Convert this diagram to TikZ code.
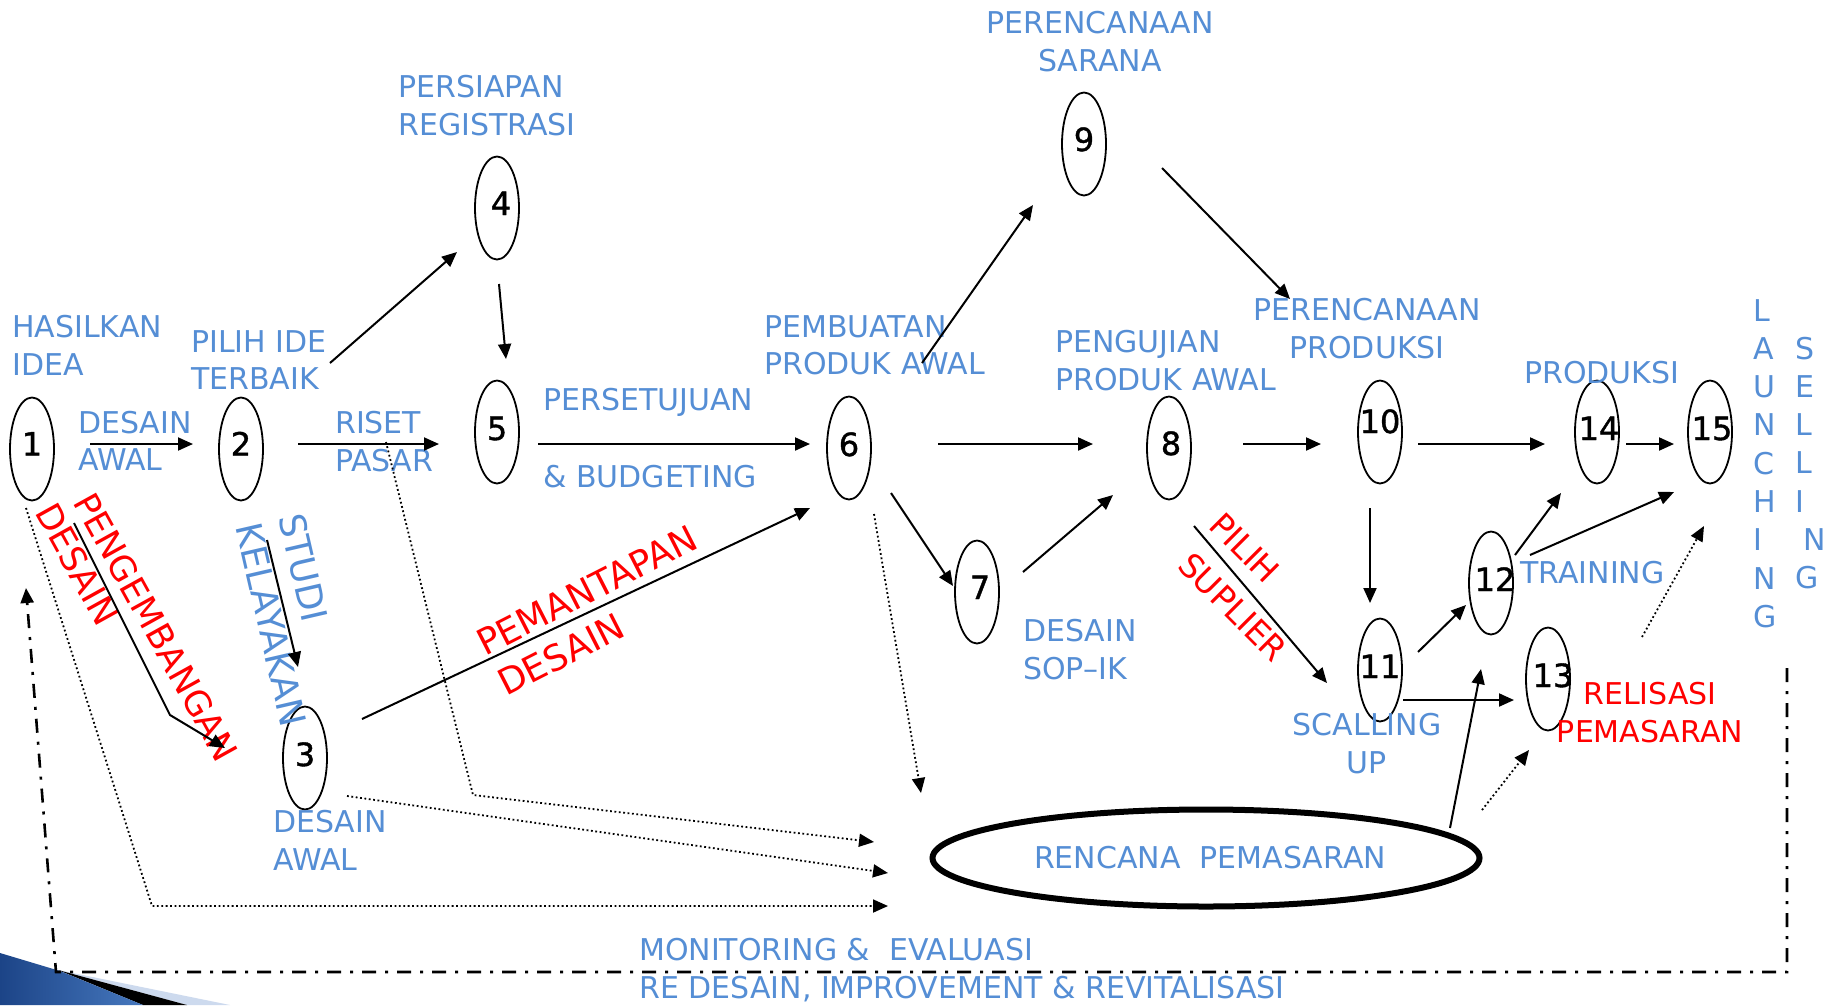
\documentclass[tikz,border=0pt]{standalone}
\usepackage{fontspec}
\setmainfont{DejaVu Sans}
\newfontfamily\digitfont{DejaVu Sans}[FakeBold=1.2]
\usetikzlibrary{shapes.geometric,arrows.meta}
\definecolor{tblue}{RGB}{85,142,213}
\definecolor{cornerdark}{RGB}{28,68,135}
\definecolor{cornerlight}{RGB}{70,120,190}
\definecolor{cornerpale}{RGB}{205,218,238}
\newcommand\myfs[1]{\fontsize{#1pt}{#1pt}\selectfont}
\newcommand\mytwo[3]{\vtop{\baselineskip=#1pt\lineskiplimit=-200pt\hbox{#2}\hbox{#3}}}
\newcommand\mytwoc[3]{\vtop{\baselineskip=#1pt\lineskiplimit=-200pt\halign{\hfil##\hfil\cr#2\cr#3\cr}}}
\newcommand\mycol[1]{\vtop{\baselineskip=38.3pt\lineskiplimit=-200pt #1}}
% digit inside an ellipse: optional horizontal nudge, vertical baseline drop
\newcommand\dg[3][0pt]{\makebox[0pt]{\hspace{#1}\raisebox{-#2pt}{#3}}}
\tikzset{
  stepnode/.style={ellipse, draw, line width=1.8pt, minimum width=44pt, minimum height=103pt, inner sep=0pt, text height=0pt, text depth=0pt, font=\digitfont\myfs{32}},
  lbl/.style={text=tblue, font=\myfs{30}, anchor=base west, inner sep=0pt},
  clbl/.style={text=tblue, font=\myfs{30}, anchor=base, inner sep=0pt},
  rotred/.style={text=red, font=\myfs{35}, anchor=base west, inner sep=0pt},
  rotblue/.style={text=tblue, font=\myfs{36}, anchor=base west, inner sep=0pt},
  arr/.style={line width=2pt, -{Triangle[length=15pt,width=13pt]}},
  dots/.style={line width=1.8pt, dash pattern=on 1.8pt off 2.6pt},
  darr/.style={dots, -{Triangle[length=15pt,width=13pt]}},
  dashdot/.style={line width=2.6pt, dash pattern=on 14pt off 9pt on 3pt off 9pt},
}
\begin{document}
\begin{tikzpicture}[x=1pt,y=-1pt]
\useasboundingbox (0,0) rectangle (1833,1005);
\fill[white] (0,0) rectangle (1833,1005);

% corner decoration
\fill[cornerpale] (58,970) -- (230,1005) -- (187,1005) -- cycle;
\fill[black] (58,970) -- (187,1005) -- (143,1005) -- cycle;
\shade[left color=cornerdark, right color=cornerlight] (0,953) -- (60,971) -- (143,1005) -- (0,1005) -- cycle;

% step nodes
\node[stepnode] (n1) at (32,449) {\dg{6.5}{1}};
\node[stepnode] (n2) at (241,449) {\dg{6.5}{2}};
\node[stepnode] (n3) at (305,758) {\dg{8}{3}};
\node[stepnode] (n4) at (497,208) {\dg[8pt]{7}{4}};
\node[stepnode] (n5) at (497,432) {\dg{8}{5}};
\node[stepnode] (n6) at (849,448) {\dg{8}{6}};
\node[stepnode] (n7) at (977,592) {\dg[6pt]{7}{7}};
\node[stepnode] (n8) at (1169,448) {\dg[4pt]{7}{8}};
\node[stepnode] (n9) at (1084,144) {\dg{7}{9}};
\node[stepnode] (n10) at (1380,432) {\dg{1}{10}};
\node[stepnode] (n11) at (1380,670) {\dg{8}{11}};
\node[stepnode] (n12) at (1491,583) {\dg[8pt]{8}{12}};
\node[stepnode] (n13) at (1548,679) {\dg[10pt]{8}{13}};
\node[stepnode] (n14) at (1597,432) {\dg[4pt]{8}{14}};
\node[stepnode] (n15) at (1710,432) {\dg[4pt]{8}{15}};
\node[ellipse, draw, line width=6pt, minimum width=547pt, minimum height=97pt, inner sep=0pt, text=tblue, font=\myfs{30}] (ren) at (1206,858) {\hspace{8pt}RENCANA\ \ PEMASARAN};

% labels
\node[lbl] (tHasil) at (12,337) {\mytwo{38}{HASILKAN}{IDEA}};
\node[lbl] (tDesAw1) at (78,433) {\mytwo{37}{DESAIN}{AWAL}};
\node[lbl] (tPilih) at (191,352) {\mytwo{37}{PILIH IDE}{TERBAIK}};
\node[lbl] (tRiset) at (335,433) {\mytwo{38}{RISET}{PASAR}};
\node[lbl] (tPersiap) at (398,97) {\mytwo{38}{PERSIAPAN}{REGISTRASI}};
\node[lbl] (tSetuju) at (543,410) {\mytwo{77}{PERSETUJUAN}{\& BUDGETING}};
\node[lbl] (tBuat) at (764,337) {\mytwo{37}{PEMBUATAN}{PRODUK AWAL}};
\node[clbl] (tSarana) at (1100,33) {\mytwoc{38}{PERENCANAAN}{SARANA}};
\node[lbl] (tUji) at (1055,352) {\mytwo{38}{PENGUJIAN}{PRODUK AWAL}};
\node[clbl] (tRenProd) at (1367,320) {\mytwoc{38}{PERENCANAAN}{PRODUKSI}};
\node[lbl] (tProd) at (1524,383) {PRODUKSI};
\node[lbl] (tTrain) at (1520,583) {TRAINING};
\node[lbl] (tSop) at (1023,641) {\mytwo{38}{DESAIN}{SOP–IK}};
\node[clbl] (tScal) at (1367,735) {\mytwoc{38}{SCALLING}{UP}};
\node[lbl] (tDesAw3) at (273,832) {\mytwo{38}{DESAIN}{AWAL}};
\node[clbl, text=red] (tReal) at (1650,704) {\mytwoc{38}{RELISASI}{PEMASARAN}};
\node[lbl] (tMon) at (639,960) {MONITORING \&\ \ EVALUASI};
\node[lbl] (tRe) at (639,998) {RE DESAIN, IMPROVEMENT \& REVITALISASI};
\node[lbl] (tLaunch) at (1753,321) {\mycol{\hbox{L}\hbox{A}\hbox{U}\hbox{N}\hbox{C}\hbox{H}\hbox{I}\hbox{N}\hbox{G}}};
\node[lbl] (tSell) at (1795,359) {\mycol{\hbox{S}\hbox{E}\hbox{L}\hbox{L}\hbox{I}\hbox{\hspace{8pt}N}\hbox{G}}};

% rotated labels
\node[rotred, rotate=-61] (tPeng1) at (72,502) {PENGEMBANGAN};
\node[rotred, rotate=-61] (tPeng2) at (34,512) {DESAIN};
\node[rotblue, rotate=-77] (tStudi) at (278,517) {STUDI};
\node[rotblue, rotate=-77] (tKelay) at (235,526) {KELAYAKAN};
\node[rotred, font=\myfs{36}, rotate=27] (tMant1) at (485,657) {PEMANTAPAN};
\node[rotred, font=\myfs{36}, rotate=27] (tMant2) at (506,697) {DESAIN};
\node[rotred, font=\myfs{33}, rotate=-45] (tPilih1) at (1207,527) {PILIH};
\node[rotred, font=\myfs{33}, rotate=-45] (tPilih2) at (1176,567) {SUPLIER};

% connector end points
\coordinate (c12a) at (90,444);   \coordinate (c12b) at (193,444);
\coordinate (c25a) at (298,444);  \coordinate (c25b) at (439,444);
\coordinate (c24a) at (330,363);  \coordinate (c24b) at (457,252);
\coordinate (c45a) at (499,284);  \coordinate (c45b) at (506,359);
\coordinate (c56a) at (538,444);  \coordinate (c56b) at (810,444);
\coordinate (c69a) at (922,363);  \coordinate (c69b) at (1033,205);
\coordinate (c910a) at (1162,168); \coordinate (c910b) at (1290,299);
\coordinate (c68a) at (938,444);  \coordinate (c68b) at (1093,444);
\coordinate (c67a) at (891,493);  \coordinate (c67b) at (953,586);
\coordinate (c78a) at (1023,572); \coordinate (c78b) at (1113,495);
\coordinate (c36a) at (362,719);  \coordinate (c36b) at (810,508);
\coordinate (c13a) at (74,523);   \coordinate (c13m) at (170,715); \coordinate (c13b) at (225,748);
\coordinate (c23a) at (267,540);  \coordinate (c23b) at (298,667);
\coordinate (c810a) at (1243,444); \coordinate (c810b) at (1321,444);
\coordinate (c1014a) at (1418,444); \coordinate (c1014b) at (1545,444);
\coordinate (c1415a) at (1626,444); \coordinate (c1415b) at (1674,444);
\coordinate (c1011a) at (1370,508); \coordinate (c1011b) at (1370,603);
\coordinate (c811a) at (1194,526); \coordinate (c811b) at (1327,683);
\coordinate (c1112a) at (1418,652); \coordinate (c1112b) at (1466,605);
\coordinate (c1113a) at (1403,700); \coordinate (c1113b) at (1514,700);
\coordinate (c1214a) at (1515,555); \coordinate (c1214b) at (1561,493);
\coordinate (c1215a) at (1530,555); \coordinate (c1215b) at (1674,492);
\coordinate (cR12a) at (1450,828); \coordinate (cR12b) at (1481,669);
% dotted
\coordinate (d1a) at (26,508); \coordinate (d1m) at (152,906); \coordinate (d1b) at (888,906);
\coordinate (d2a) at (386,442); \coordinate (d2m) at (473,795); \coordinate (d2b) at (874,842);
\coordinate (d3a) at (347,796); \coordinate (d3b) at (888,873);
\coordinate (d6a) at (874,514); \coordinate (d6b) at (921,793);
\coordinate (d13a) at (1482,810); \coordinate (d13b) at (1529,750);
\coordinate (d15a) at (1642,637); \coordinate (d15b) at (1704,526);
% feedback loop
\coordinate (fbA) at (1787,668); \coordinate (fbB) at (1787,972);
\coordinate (fbC) at (56,972); \coordinate (fbD) at (26,588);

% solid arrows
\draw[arr] (c12a) -- (c12b);
\draw[arr] (c25a) -- (c25b);
\draw[arr] (c24a) -- (c24b);
\draw[arr] (c45a) -- (c45b);
\draw[arr] (c56a) -- (c56b);
\draw[arr] (c69a) -- (c69b);
\draw[arr] (c910a) -- (c910b);
\draw[arr] (c68a) -- (c68b);
\draw[arr] (c67a) -- (c67b);
\draw[arr] (c78a) -- (c78b);
\draw[arr] (c36a) -- (c36b);
\draw[arr] (c13a) -- (c13m) -- (c13b);
\draw[arr] (c23a) -- (c23b);
\draw[arr] (c810a) -- (c810b);
\draw[arr] (c1014a) -- (c1014b);
\draw[arr] (c1415a) -- (c1415b);
\draw[arr] (c1011a) -- (c1011b);
\draw[arr] (c811a) -- (c811b);
\draw[arr] (c1112a) -- (c1112b);
\draw[arr] (c1113a) -- (c1113b);
\draw[arr] (c1214a) -- (c1214b);
\draw[arr] (c1215a) -- (c1215b);
\draw[arr] (cR12a) -- (cR12b);

% dotted arrows
\draw[darr] (d1a) -- (d1m) -- (d1b);
\draw[darr] (d2a) -- (d2m) -- (d2b);
\draw[darr] (d3a) -- (d3b);
\draw[darr] (d6a) -- (d6b);
\draw[darr] (d13a) -- (d13b);
\draw[darr] (d15a) -- (d15b);

% feedback loop
\draw[dashdot, -{Triangle[length=15pt,width=13pt]}] (fbA) -- (fbB) -- (fbC) -- (fbD);
\end{tikzpicture}
\end{document}
